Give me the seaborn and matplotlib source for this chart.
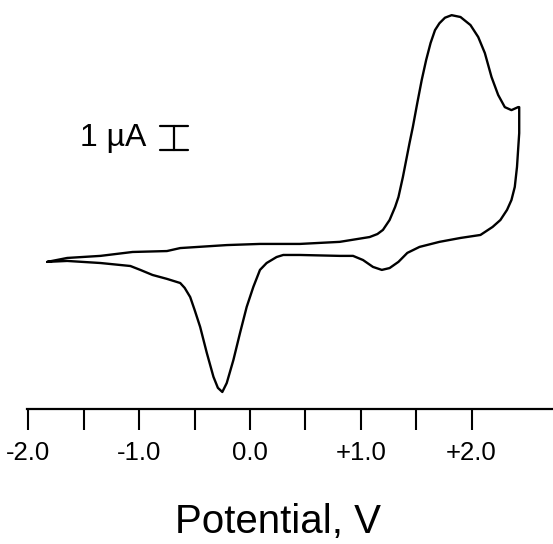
import matplotlib
matplotlib.use("Agg")
import matplotlib.pyplot as plt
from matplotlib.ticker import FixedLocator
import numpy as np
import pandas as pd
import seaborn as sns

# Cyclic voltammogram: potential (V) and current (uA), traced as one closed loop
# Forward (anodic) sweep from the negative turning point to the positive vertex
forward_potential = [-1.83, -1.65, -1.35, -1.06, -0.75, -0.63, -0.21, 0.09, 0.45,
                     0.81, 1.08, 1.15, 1.20, 1.26, 1.31, 1.34, 1.38, 1.41, 1.44,
                     1.47, 1.51, 1.55, 1.59, 1.63, 1.67, 1.71, 1.76, 1.82,
                     1.90, 1.99, 2.06, 2.12, 2.18, 2.24, 2.30, 2.36, 2.42]
forward_current = [-0.30, -0.13, -0.04, 0.13, 0.17, 0.30, 0.43, 0.48, 0.48,
                   0.57, 0.78, 0.91, 1.09, 1.52, 2.09, 2.52, 3.39, 4.13, 4.87,
                   5.57, 6.61, 7.61, 8.48, 9.22, 9.78, 10.08, 10.32, 10.43,
                   10.35, 10.00, 9.48, 8.78, 7.74, 6.96, 6.43, 6.30, 6.43]

# Reverse (cathodic) sweep back to the starting potential
reverse_potential = [2.43, 2.43, 2.42, 2.41, 2.39, 2.36, 2.32, 2.26, 2.19, 2.08,
                     1.90, 1.71, 1.53, 1.42, 1.34, 1.26, 1.19, 1.11, 1.02, 0.93,
                     0.81, 0.45, 0.30, 0.24, 0.15, 0.09, 0.03, -0.03, -0.09, -0.15,
                     -0.21, -0.25, -0.29, -0.33, -0.39, -0.45, -0.50, -0.54, -0.59,
                     -0.63, -0.75, -0.88, -0.99, -1.08, -1.35, -1.65, -1.83]
reverse_current = [6.43, 5.30, 4.57, 3.83, 2.96, 2.39, 1.96, 1.52, 1.22, 0.87,
                   0.74, 0.57, 0.35, 0.09, -0.30, -0.57, -0.65, -0.52, -0.22, -0.04,
                   -0.04, 0.00, 0.00, -0.09, -0.35, -0.65, -1.39, -2.26, -3.39, -4.57,
                   -5.57, -5.96, -5.78, -5.30, -4.26, -3.13, -2.39, -1.83, -1.43,
                   -1.22, -1.04, -0.87, -0.65, -0.48, -0.35, -0.26, -0.30]

major_ticks = [-2.0, -1.0, 0.0, 1.0, 2.0]
major_labels = ["-2.0", "-1.0", "0.0", "+1.0", "+2.0"]
minor_ticks = [-1.5, -0.5, 0.5, 1.5]

scan = pd.DataFrame({
    "potential": forward_potential + reverse_potential,
    "current": forward_current + reverse_current,
})
scan["order"] = np.arange(len(scan))

sns.set_style("white")
plt.rcParams["font.family"] = ["Liberation Sans", "DejaVu Sans"]

fig = plt.figure(figsize=(5.53, 5.44), dpi=100)
ax = fig.add_axes([27 / 553, 135 / 544, 526 / 553, 409 / 544])

sns.lineplot(data=scan, x="potential", y="current", sort=False, estimator=None,
             color="black", linewidth=1.7, ax=ax)

ax.set_xlim(-2.013, 2.735)
ax.set_ylim(-6.70, 11.09)

for side in ("left", "right", "top"):
    ax.spines[side].set_visible(False)
ax.spines["bottom"].set_linewidth(1.6)
ax.spines["bottom"].set_color("black")

ax.xaxis.set_major_locator(FixedLocator(major_ticks))
ax.xaxis.set_minor_locator(FixedLocator(minor_ticks))
ax.set_xticklabels(major_labels, fontsize=18.5, color="black")
ax.tick_params(axis="x", which="both", direction="out", length=15, width=1.5,
               color="black", bottom=True)
ax.tick_params(axis="x", which="major", pad=8)
ax.set_yticks([])
ax.set_xlabel("")
ax.set_ylabel("")

# Current scale bar: 1 uA
bar_x = (174 - 250) / 110.8
bar_half = 14 / 110.8
bar_lo, bar_hi = 4.57, 5.61
ax.plot([bar_x, bar_x], [bar_lo, bar_hi], color="black", linewidth=1.6)
ax.plot([bar_x - bar_half, bar_x + bar_half], [bar_lo, bar_lo], color="black", linewidth=1.6)
ax.plot([bar_x - bar_half, bar_x + bar_half], [bar_hi, bar_hi], color="black", linewidth=1.6)
ax.text(bar_x - bar_half - 0.12, (bar_lo + bar_hi) / 2, "1 \u00b5A", ha="right",
        va="center", fontsize=23, color="black")

fig.text(278 / 553, 1 - 522 / 544, "Potential, V", ha="center", va="center",
         fontsize=29, color="black")

fig.savefig("out.png", dpi=100)
